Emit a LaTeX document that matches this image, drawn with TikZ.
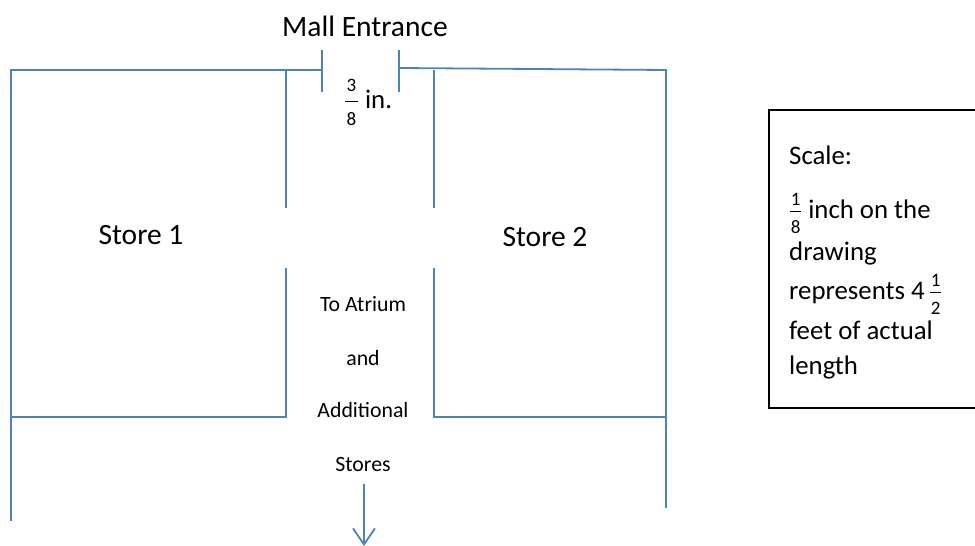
\documentclass[tikz,border=0pt]{standalone}
\usepackage{amsmath}
\usepackage{fontspec}
\setmainfont{Carlito}
\usetikzlibrary{arrows.meta}
\definecolor{wallblue}{RGB}{79,129,189}
\newcommand{\fracdigit}[2][1.5pt]{\text{\fontsize{19}{19}\selectfont\kern#1 #2\kern#1}}
\newcommand{\wordfrac}[2]{\genfrac{}{}{1.4pt}{0}{\fracdigit{#1}}{\fracdigit{#2}}}
\newcommand{\boxfrac}[2]{\genfrac{}{}{1.4pt}{1}{\rule[-4pt]{0pt}{4pt}\fracdigit[0.5pt]{#1}}{\rule{0pt}{20pt}\fracdigit[0.5pt]{#2}}}
\begin{document}
\begin{tikzpicture}[
x=1pt,y=-1pt,
wall/.style={
  draw=wallblue,
  line width=1.8pt
  },
biglabel/.style={font=\fontsize{29.5}{34}\selectfont,anchor=base},
boxline/.style={font=\fontsize{26.8}{30}\selectfont,anchor=base west,inner sep=0pt},
smalllabel/.style={font=\fontsize{21.8}{25}\selectfont,anchor=base}
]
\useasboundingbox (0,0) rectangle (975,546);
% walls
\draw[wall] (11,521) -- (11,70) -- (322,70);
\draw[wall] (322,50) -- (322,92);
\draw[wall] (399,50) -- (399,92);
\draw[wall] (399,68) -- (667,70);
\draw[wall] (666,70) -- (666,508);
\draw[wall] (286,70) -- (286,208);
\draw[wall] (434,70) -- (434,208);
\draw[wall] (11,417) -- (286,417) -- (286,268);
\draw[wall] (667,417) -- (434,417) -- (434,268);
% labels
\node[biglabel] (entrance) at (365,36) {Mall Entrance};
\node[font=\fontsize{26.8}{30}\selectfont,anchor=base] (width) at (368,108) {$\wordfrac{3}{8}$ in.};
\node[biglabel] (store1) at (141,244) {Store 1};
\node[biglabel] (store2) at (545,246) {Store 2};
\node[smalllabel] (atrium1) at (363,311) {To Atrium};
\node[smalllabel] (atrium2) at (363,365) {and};
\node[smalllabel] (atrium3) at (363,417) {Additional};
\node[smalllabel] (atrium4) at (363,471) {Stores};
\coordinate (arrowtop) at (364,484);
\coordinate (arrowend) at (364,546);
\draw[wall,-{Straight Barb[length=16pt,width=22pt,line width=1.8pt]}] (arrowtop) -- (arrowend);
% scale box
\draw[line width=1.8pt] (976,110) -- (769,110) -- (769,408) -- (976,408);
\node[boxline] (scale1) at (789,164) {Scale:};
\node[boxline] (scale2) at (789,218) {$\boxfrac{1}{8}$ inch on the};
\node[boxline] (scale3) at (789,260) {drawing};
\node[boxline] (scale4) at (789,299) {represents \text{4}\,$\boxfrac{1}{2}$};
\node[boxline] (scale5) at (789,339) {feet of actual};
\node[boxline] (scale6) at (789,374) {length};
\end{tikzpicture}
\end{document}
